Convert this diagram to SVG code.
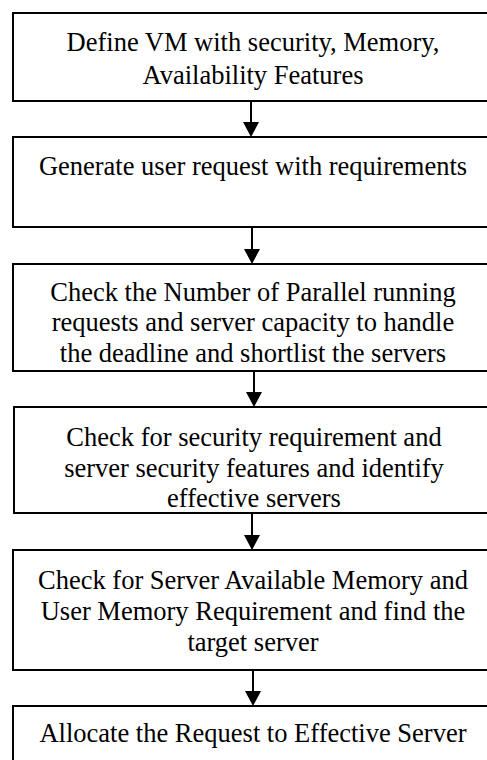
<svg xmlns="http://www.w3.org/2000/svg" width="487" height="760" viewBox="0 0 487 760">
<style>
.box{fill:#fff;stroke:#000;stroke-width:2}
.t{font-family:"Liberation Serif","Times New Roman",serif;font-size:26.5px;fill:#000;text-anchor:middle}
.c{stroke:#000;stroke-width:2;fill:none}
</style>
<rect width="487" height="760" fill="#fff"/>
<g id="n1"><rect class="box" x="13" y="13" width="477" height="88"/>
<text class="t" x="253" y="51">Define VM with security, Memory,</text>
<text class="t" x="253" y="84">Availability Features</text></g>
<g id="n2"><rect class="box" x="13" y="137" width="477" height="90"/>
<text class="t" x="253" y="175">Generate user request with requirements</text></g>
<g id="n3"><rect class="box" x="13" y="264" width="477" height="107"/>
<text class="t" x="253" y="301">Check the Number of Parallel running</text>
<text class="t" x="253" y="331">requests and server capacity to handle</text>
<text class="t" x="253" y="362">the deadline and shortlist the servers</text></g>
<g id="n4"><rect class="box" x="14" y="407" width="476" height="106"/>
<text class="t" x="254" y="446">Check for security requirement and</text>
<text class="t" x="254" y="477">server security features and identify</text>
<text class="t" x="254" y="507">effective servers</text></g>
<g id="n5"><rect class="box" x="13" y="550" width="477" height="120"/>
<text class="t" x="253" y="589">Check for Server Available Memory and</text>
<text class="t" x="253" y="620">User Memory Requirement and find the</text>
<text class="t" x="253" y="651">target server</text></g>
<g id="n6"><rect class="box" x="13" y="706" width="477" height="70"/>
<text class="t" x="253" y="742">Allocate the Request to Effective Server</text></g>
<g id="connectors">
<path d="M251,101 L251,122" class="c"/><path d="M243,122 L259,122 L251,137 Z"/>
<path d="M252,227 L252,249" class="c"/><path d="M244,249 L260,249 L252,264 Z"/>
<path d="M254,371 L254,392" class="c"/><path d="M246,392 L262,392 L254,407 Z"/>
<path d="M252,513 L252,535" class="c"/><path d="M244,535 L260,535 L252,550 Z"/>
<path d="M253,670 L253,691" class="c"/><path d="M245,691 L261,691 L253,706 Z"/>
</g>
</svg>
